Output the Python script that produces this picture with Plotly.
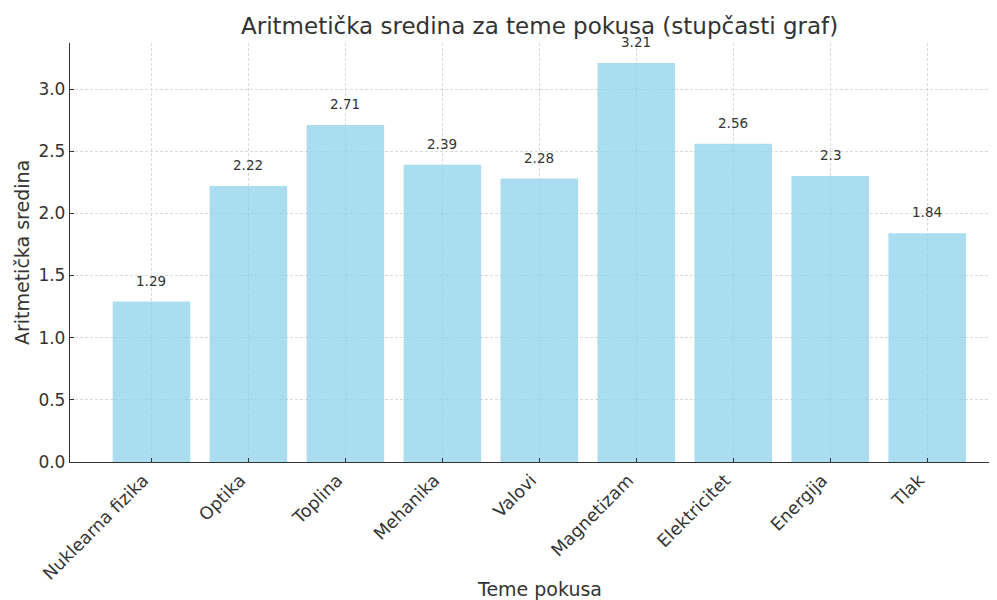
import plotly.graph_objects as go

categories = ["Nuklearna fizika", "Optika", "Toplina", "Mehanika", "Valovi",
              "Magnetizam", "Elektricitet", "Energija", "Tlak"]
values = [1.29, 2.22, 2.71, 2.39, 2.28, 3.21, 2.56, 2.3, 1.84]
value_labels = ["1.29", "2.22", "2.71", "2.39", "2.28", "3.21", "2.56", "2.3", "1.84"]
y_ticks = [0.0, 0.5, 1.0, 1.5, 2.0, 2.5, 3.0]
y_tick_labels = ["0.0", "0.5", "1.0", "1.5", "2.0", "2.5", "3.0"]

FONT = "DejaVu Sans"
TXT = "#333333"
GRID = "#d9d9d9"

fig = go.Figure()
fig.add_trace(go.Bar(
    x=list(range(len(categories))), y=values, width=0.8,
    marker=dict(color="rgba(135,206,235,0.7)", line=dict(width=0)),
    cliponaxis=False,
))

annotations = []
for i, (v, lab) in enumerate(zip(values, value_labels)):
    annotations.append(dict(
        x=i, y=v, xref="x", yref="y", text=lab, showarrow=False,
        yanchor="bottom", yshift=11,
        font=dict(family=FONT, size=13.5, color=TXT),
    ))
annotations += [
    dict(text="Aritmetička sredina za teme pokusa (stupčasti graf)",
         x=0.506, y=1.0406, xref="paper", yref="paper", showarrow=False,
         xanchor="center", yanchor="middle",
         font=dict(family=FONT, size=23, color=TXT)),
    dict(text="Teme pokusa", x=0.506, y=-0.303, xref="paper", yref="paper",
         showarrow=False, xanchor="center", yanchor="middle",
         font=dict(family=FONT, size=19, color=TXT)),
    dict(text="Aritmetička sredina", x=-0.0518, y=0.501, xref="paper", yref="paper",
         showarrow=False, xanchor="center", yanchor="middle", textangle=-90,
         font=dict(family=FONT, size=19, color=TXT)),
]

# the page body adds an 8px offset, so the figure is drawn 8px smaller
fig.update_layout(
    width=989, height=592,
    paper_bgcolor="white", plot_bgcolor="white",
    margin=dict(l=62, r=0, t=35, b=138, autoexpand=False),
    font=dict(family=FONT, color=TXT),
    showlegend=False,
    annotations=annotations,
)
fig.update_xaxes(
    range=[-0.84, 8.72], automargin=False,
    tickmode="array", tickvals=list(range(len(categories))), ticktext=categories,
    tickangle=-45, tickfont=dict(family=FONT, size=17.5, color=TXT),
    ticklabelshift=-8,
    showgrid=True, gridcolor=GRID, griddash="3px,2px", gridwidth=0.8,
    showline=True, linecolor="#333333", linewidth=1.3,
    ticks="inside", ticklen=4, tickcolor="#333333",
    zeroline=False,
)
fig.update_yaxes(
    range=[0, 3.37], automargin=False,
    tickmode="array", tickvals=y_ticks, ticktext=y_tick_labels,
    tickfont=dict(family=FONT, size=17, color=TXT),
    showgrid=True, gridcolor=GRID, griddash="3px,2px", gridwidth=0.8,
    showline=True, linecolor="#333333", linewidth=1.3,
    ticks="inside", ticklen=4, tickcolor="#333333",
    zeroline=False,
)

fig.write_html("out.html")
